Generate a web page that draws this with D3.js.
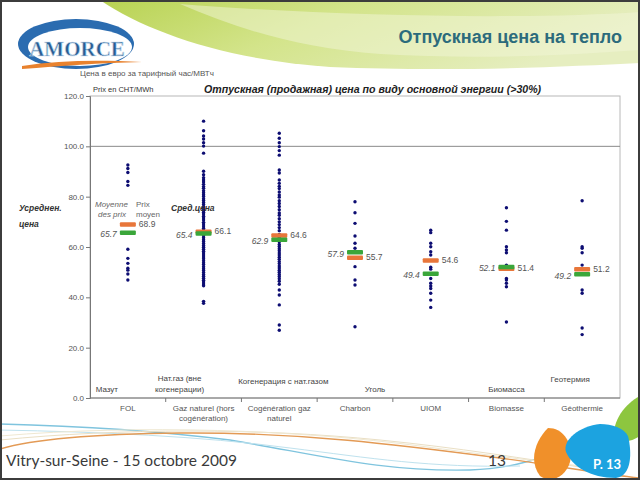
<!DOCTYPE html>
<html>
<head>
<meta charset="utf-8">
<script src="https://cdn.jsdelivr.net/npm/d3@7"></script>
<style>
  body { margin: 0; background: #fff; }
  svg { display: block; }
</style>
</head>
<body>
<div id="slide"></div>
<script>
// --- data ---
const categories = ["FOL", "Gaz naturel (hors cogénération)", "Cogénération gaz naturel", "Charbon", "UIOM", "Biomasse", "Géothermie"];
const categoryLines = [["FOL"], ["Gaz naturel (hors", "cogénération)"], ["Cogénération gaz", "naturel"], ["Charbon"], ["UIOM"], ["Biomasse"], ["Géothermie"]];
const ruLabels = [["Мазут"], ["Нат.газ (вне", "когенерации)"], ["Когенерация с нат.газом"], ["Уголь"], [], ["Биомасса"], ["Геотермия"]];

const pricesFOL = [92.6, 91.2, 89.6, 86.0, 84.5, 59.1, 55.5, 53.5, 51.6, 50.8, 49.3, 46.9];
const pricesGaz = [110.0, 106.2, 104.1, 102.9, 101.4, 100.1, 97.3, 90.1, 88.7, 87.5, 86.6, 85.8, 84.9, 84.0, 83.3, 82.4,
  81.6, 80.8, 80.1, 79.2, 78.5, 77.7, 76.9, 76.0, 75.4, 74.6, 73.8, 73.1, 72.2, 71.5, 70.7, 69.8, 69.1, 68.3, 67.5,
  66.8, 66.0, 65.2, 64.5, 63.7, 62.9, 62.2, 61.4, 60.6, 59.9, 59.1, 58.3, 57.6, 56.8, 56.0, 55.3, 54.5, 53.7, 53.0,
  52.2, 51.4, 50.7, 49.9, 49.1, 48.4, 47.6, 46.8, 46.1, 45.3, 44.6, 38.4, 37.6];
const pricesCogen = [105.2, 103.2, 101.4, 99.9, 98.3, 96.5, 90.6, 89.4, 86.6, 85.3, 84.1, 83.2, 81.9, 80.7, 79.8, 78.4,
  77.3, 76.1, 74.8, 73.5, 72.6, 71.2, 70.0, 68.9, 67.7, 66.5, 65.0, 63.8, 62.1, 61.0, 60.2, 59.3, 58.5, 57.6, 56.8,
  55.9, 55.1, 54.2, 53.4, 52.5, 51.7, 50.8, 50.0, 49.1, 48.3, 47.4, 46.4, 45.2, 42.9, 40.9, 37.0, 29.0, 26.9];
const pricesCharbon = [78.0, 73.6, 69.4, 64.4, 61.5, 59.5, 52.2, 46.9, 44.9, 28.3];
const pricesUIOM = [66.7, 65.7, 61.5, 60.1, 58.1, 56.8, 52.0, 51.2, 47.5, 45.6, 44.5, 43.5, 41.6, 38.9, 36.0];
const pricesBiomasse = [75.6, 70.2, 66.7, 60.1, 58.8, 57.7, 52.8, 47.5, 46.9, 45.6, 44.2, 30.2];
const pricesGeo = [78.4, 60.1, 59.5, 57.7, 52.8, 42.9, 41.6, 27.8, 25.2];

const moyenneDesPrix = [65.7, 65.4, 62.9, 57.9, 49.4, 52.1, 49.2];   // green bars
const prixMoyen = [68.9, 66.1, 64.6, 55.7, 54.6, 51.4, 51.2];        // orange bars
const yTicks = [0, 20, 40, 60, 80, 100, 120];

const allPrices = [pricesFOL, pricesGaz, pricesCogen, pricesCharbon, pricesUIOM, pricesBiomasse, pricesGeo];

const W = 640, H = 480;
const plot = { left: 90, right: 620, top: 96, bottom: 398 };
const chartFont = "'Liberation Sans', Arial, sans-serif";
const footFont = "Lato, 'Open Sans', sans-serif";

const svg = d3.select("#slide").append("svg")
    .attr("width", W)
    .attr("height", H)
    .style("font-family", chartFont);

// --- slide decoration: top green swoosh ---
const defs = svg.append("defs");
const grad = defs.append("linearGradient").attr("id", "swoosh").attr("x1", "0").attr("y1", "0").attr("x2", "1").attr("y2", "0.3");
grad.append("stop").attr("offset", "0%").attr("stop-color", "#b8d252");
grad.append("stop").attr("offset", "45%").attr("stop-color", "#d3e48a");
grad.append("stop").attr("offset", "100%").attr("stop-color", "#e6eec0");

svg.append("path")
    .attr("d", "M100,0 C150,34 230,60 330,67 C450,72 560,67 640,63 L640,0 Z")
    .attr("fill", "url(#swoosh)");
svg.append("path")
    .attr("d", "M180,4 C240,30 300,48 380,54 C480,60 570,55 640,50 L640,12 C520,20 330,16 180,4 Z")
    .attr("fill", "#f1f5d8")
    .attr("opacity", 0.5);

// title
svg.append("text")
    .attr("x", 622).attr("y", 43)
    .attr("text-anchor", "end")
    .attr("font-size", 18).attr("font-weight", "bold")
    .attr("fill", "#2c6b7c")
    .text("Отпускная цена на тепло");

// --- AMORCE logo ---
const logo = svg.append("g");
logo.append("ellipse").attr("cx", 76).attr("cy", 44).attr("rx", 58).attr("ry", 25).attr("fill", "#2b6cb0");
logo.append("ellipse").attr("cx", 80).attr("cy", 47).attr("rx", 52).attr("ry", 19).attr("fill", "#fff");
logo.append("path")
    .attr("d", "M22,66 C60,60 100,60 142,62 C100,63 60,66 22,69 Z")
    .attr("fill", "#e8822e");
logo.append("text")
    .attr("x", 77).attr("y", 56)
    .attr("text-anchor", "middle")
    .attr("font-family", "'Liberation Serif', 'DejaVu Serif', serif")
    .attr("font-size", 21).attr("font-weight", "bold")
    .attr("fill", "#2a5d94")
    .attr("stroke", "#cfe0f0").attr("stroke-width", 0.6)
    .text("AMORCE");

// --- footer decoration ---
const footer = svg.append("g").attr("fill", "none");
footer.append("path").attr("d", "M0,424 C80,426 150,430 230,440 C320,455 380,472 470,470 C500,469 520,464 540,458").attr("stroke", "#7fc4de").attr("stroke-width", 1.4);
footer.append("path").attr("d", "M0,430 C100,432 200,436 290,448 C370,458 430,468 520,466").attr("stroke", "#bfe2ee").attr("stroke-width", 1);
footer.append("path").attr("d", "M0,449 C30,440 90,434 180,433 C300,432 400,445 500,458 C560,466 600,474 640,478").attr("stroke", "#e39a55").attr("stroke-width", 1.4);
footer.append("path").attr("d", "M0,440 C120,428 260,428 380,440 C460,448 520,458 600,470").attr("stroke", "#eadfc4").attr("stroke-width", 1);
footer.append("path").attr("d", "M0,436 C140,424 300,430 420,446 C480,454 540,462 620,470").attr("stroke", "#efe8d2").attr("stroke-width", 1);

// blobs at the bottom right
svg.append("path").attr("d", "M640,396 C625,404 612,420 614,440 C624,444 634,440 640,436 Z").attr("fill", "#8dc63f");
svg.append("path").attr("d", "M548,428 C536,440 528,460 540,476 C552,484 566,476 570,462 C574,448 566,428 548,428 Z").attr("fill", "#f0902a");
svg.append("path").attr("d", "M600,424 C580,426 562,440 566,452 C572,466 590,478 616,478 C632,476 632,452 628,436 C624,428 612,424 600,424 Z").attr("fill", "#1ca3e0");
svg.append("text")
    .attr("x", 607).attr("y", 469)
    .attr("text-anchor", "middle")
    .attr("font-family", footFont)
    .attr("font-size", 13).attr("font-weight", "bold")
    .attr("fill", "#fff")
    .text("P. 13");

svg.append("text")
    .attr("x", 6).attr("y", 466)
    .attr("font-family", footFont)
    .attr("font-size", 15.5)
    .attr("fill", "#3a3a3a")
    .text("Vitry-sur-Seine - 15 octobre 2009");
svg.append("text")
    .attr("x", 488).attr("y", 466)
    .attr("font-family", footFont)
    .attr("font-size", 15.5)
    .attr("fill", "#3a3a3a")
    .text("13");

// --- chart ---
const x = d3.scaleBand().domain(categories).range([plot.left, plot.right]);
const y = d3.scaleLinear().domain([0, 120]).range([plot.bottom, plot.top]);
const cx = c => x(c) + x.bandwidth() / 2;

// frame + gridline at 100
svg.append("rect")
    .attr("x", plot.left).attr("y", plot.top)
    .attr("width", plot.right - plot.left).attr("height", plot.bottom - plot.top)
    .attr("fill", "none").attr("stroke", "#b8b8b8").attr("stroke-width", 1);
svg.append("line")
    .attr("x1", plot.left).attr("x2", plot.right)
    .attr("y1", y(100)).attr("y2", y(100))
    .attr("stroke", "#8a8a8a");

const yAxis = svg.append("g")
    .attr("transform", `translate(${plot.left},0)`)
    .call(d3.axisLeft(y).tickValues(yTicks).tickFormat(d3.format(".1f")).tickSize(4).tickPadding(2));
yAxis.select(".domain").attr("stroke", "#777");
yAxis.selectAll(".tick line").attr("stroke", "#777");
yAxis.selectAll("text").attr("font-size", 8).attr("fill", "#555").attr("font-family", chartFont);

// bottom axis with boundary ticks
const xAxis = svg.append("g").attr("transform", `translate(0,${plot.bottom})`);
xAxis.append("line").attr("x1", plot.left).attr("x2", plot.right).attr("stroke", "#777");
xAxis.selectAll("line.btick")
    .data(categories.slice(1))
    .join("line")
    .attr("class", "btick")
    .attr("x1", d => x(d)).attr("x2", d => x(d))
    .attr("y1", 0).attr("y2", 4)
    .attr("stroke", "#777");
xAxis.selectAll("text.cat")
    .data(categories)
    .join("text")
    .attr("class", "cat")
    .attr("y", 13)
    .attr("text-anchor", "middle")
    .attr("font-size", 8)
    .attr("fill", "#555")
    .each(function (d, i) {
        d3.select(this).selectAll("tspan")
            .data(categoryLines[i])
            .join("tspan")
            .attr("x", cx(d))
            .attr("dy", (t, j) => j === 0 ? 0 : 10)
            .text(t => t);
    });

// russian labels inside the plot, near the bottom
const ruLayout = [{ dx: -21, y: 392 }, { dx: -24, y: 381 }, { dx: 4, y: 384 }, { dx: 20, y: 392 }, { dx: 0, y: 392 }, { dx: 0, y: 392 }, { dx: -12, y: 382 }];
categories.forEach((c, i) => {
    const t = svg.append("text")
        .attr("text-anchor", "middle")
        .attr("font-size", 8)
        .attr("fill", "#444")
        .attr("y", ruLayout[i].y);
    ruLabels[i].forEach((line, j) => {
        t.append("tspan")
            .attr("x", cx(c) + ruLayout[i].dx)
            .attr("dy", j === 0 ? 0 : 11)
            .text(line);
    });
});

// points
categories.forEach((c, i) => {
    svg.append("g")
        .selectAll("circle")
        .data(allPrices[i])
        .join("circle")
        .attr("cx", cx(c))
        .attr("cy", d => y(d))
        .attr("r", 1.7)
        .attr("fill", "#0d0d72");
});

// mean bars: orange = prix moyen, green = moyenne des prix
const barW = 16, barH = 4.5;
const bars = svg.append("g");
bars.selectAll("rect.orange")
    .data(prixMoyen)
    .join("rect")
    .attr("class", "orange")
    .attr("x", (d, i) => cx(categories[i]) - barW / 2)
    .attr("y", d => y(d) - barH / 2)
    .attr("width", barW).attr("height", barH)
    .attr("rx", 1)
    .attr("fill", "#e8763a");
bars.selectAll("rect.green")
    .data(moyenneDesPrix)
    .join("rect")
    .attr("class", "green")
    .attr("x", (d, i) => cx(categories[i]) - barW / 2)
    .attr("y", d => y(d) - barH / 2)
    .attr("width", barW).attr("height", barH)
    .attr("rx", 1)
    .attr("fill", "#3aa63a");

// value labels
svg.append("g").selectAll("text")
    .data(moyenneDesPrix)
    .join("text")
    .attr("x", (d, i) => cx(categories[i]) - barW / 2 - 3)
    .attr("y", d => y(d) + 4.5)
    .attr("text-anchor", "end")
    .attr("font-size", 8.5).attr("font-style", "italic")
    .attr("fill", "#555")
    .text(d => d3.format(".1f")(d));
svg.append("g").selectAll("text")
    .data(prixMoyen)
    .join("text")
    .attr("x", (d, i) => cx(categories[i]) + barW / 2 + 3)
    .attr("y", d => y(d) + 2.5)
    .attr("font-size", 8.5)
    .attr("fill", "#555")
    .text(d => d3.format(".1f")(d));

// annotations
const note = (tx, ty, txt, opts = {}) => svg.append("text")
    .attr("x", tx).attr("y", ty)
    .attr("font-size", opts.size || 8)
    .attr("font-style", opts.italic ? "italic" : null)
    .attr("font-weight", opts.bold ? "bold" : null)
    .attr("fill", opts.fill || "#555")
    .text(txt);

note(80, 76, "Цена в евро за тарифный час/МВТч", { size: 8, fill: "#555" });
note(93, 92, "Prix en CHT/MWh", { size: 7.5, fill: "#333" });
note(204, 93, "Отпускная (продажная) цена по виду основной энергии (>30%)", { size: 10.6, italic: true, bold: true, fill: "#222" });
note(19, 211, "Усреднен.", { size: 8.5, italic: true, bold: true, fill: "#333" });
note(19, 227, "цена", { size: 8.5, italic: true, bold: true, fill: "#333" });
note(95, 207, "Moyenne", { size: 8, italic: true, fill: "#666" });
note(98, 217, "des prix", { size: 8, italic: true, fill: "#666" });
note(136, 207, "Prix", { size: 8, fill: "#666" });
note(136, 216.5, "moyen", { size: 8, fill: "#666" });
note(171, 211, "Сред.цена", { size: 8.5, italic: true, bold: true, fill: "#333" });

// outer slide border
svg.append("rect")
    .attr("x", 1).attr("y", 1).attr("width", W - 2).attr("height", H - 2)
    .attr("fill", "none").attr("stroke", "#3c3c3c").attr("stroke-width", 2);
</script>
</body>
</html>
